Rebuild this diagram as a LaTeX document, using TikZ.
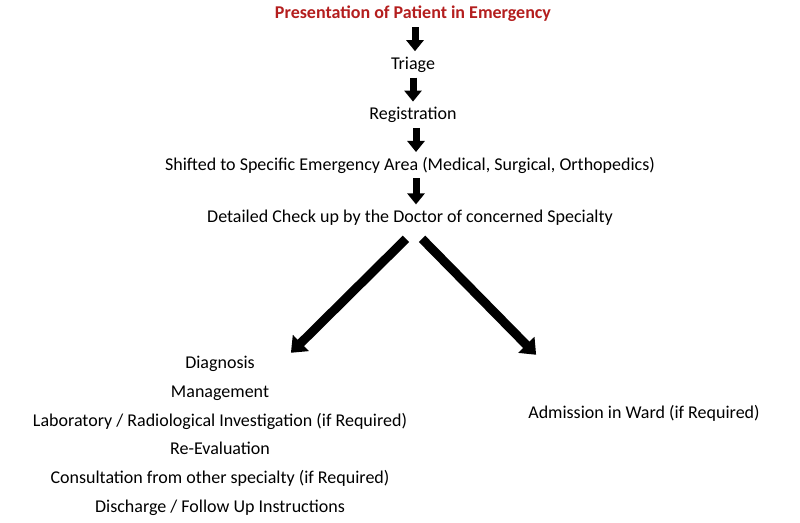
\documentclass[tikz,border=0pt]{standalone}
\usepackage{fontspec}
\setmainfont{Carlito}
\usepackage{tikz}
\usetikzlibrary{arrows.meta,positioning}
\definecolor{ERred}{HTML}{B41E1E}
\tikzset{
  stage/.style={inner sep=0pt, text height=12pt, text depth=4pt, align=center, font=\fontsize{18}{21}\selectfont},
  title/.style={stage, text=ERred, font=\fontsize{18}{21}\selectfont\bfseries},
  item/.style={stage},
  downarr/.style={line width=7pt, -{Triangle[width=17pt,length=11pt]}, shorten <=4pt, shorten >=6pt},
  splitarr/.style={line width=9pt, -{Triangle[width=22pt,length=14pt]}}
}

\begin{document}
\begin{tikzpicture}[x=1pt,y=1pt]
    \useasboundingbox (0,0) rectangle (800,522);
    \node[title] (present) at (413,507) {Presentation of Patient in Emergency};
    \node[stage,below=34pt of present] (triage) {Triage};
    \node[stage,below=34pt of triage] (regist) {Registration};
    \node[stage,below=34pt of regist,xshift=-3pt] (shift) {Shifted to Specific Emergency Area (Medical, Surgical, Orthopedics)};
    \node[stage,below=36pt of shift] (detail) {Detailed Check up by the Doctor of concerned Specialty};
    \draw[downarr] ([xshift=2pt]present.south) -- ([xshift=2pt]triage.north);
    \draw[downarr] (triage.south) -- (regist.north);
    \draw[downarr] ([xshift=3pt]regist.south) -- ([xshift=6pt]shift.north);
    \draw[downarr] ([xshift=6pt]shift.south) -- ([xshift=6pt]detail.north);
    % left branch
    \node[item] (diag) at (220,157) {Diagnosis};
    \node[item,below=12.2pt of diag] (manage) {Management};
    \node[item,below=12.2pt of manage] (labinv) {Laboratory / Radiological Investigation (if Required)};
    \node[item,below=12.2pt of labinv] (reeval) {Re-Evaluation};
    \node[item,below=12.2pt of reeval] (consult) {Consultation from other specialty (if Required)};
    \node[item,below=12.2pt of consult] (discharge) {Discharge / Follow Up Instructions};
    % right branch
    \node[item] (admit) at (644,107) {Admission in Ward (if Required)};
    \draw[splitarr] ([xshift=-4pt,yshift=-12pt]detail.south) -- ([xshift=36pt,yshift=4pt]diag.north east);
    \draw[splitarr] ([xshift=12pt,yshift=-12pt]detail.south) -- ([xshift=8pt,yshift=52pt]admit.north west);
\end{tikzpicture}
\end{document}
